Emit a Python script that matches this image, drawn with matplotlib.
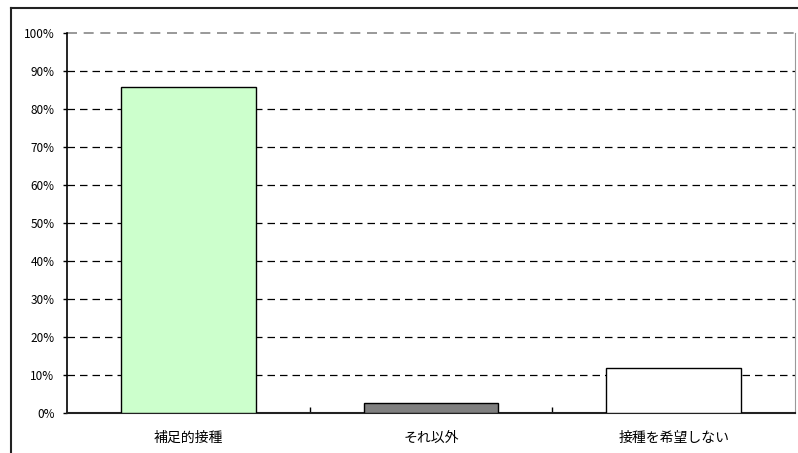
import numpy as np
import matplotlib.pyplot as plt
from matplotlib.lines import Line2D

plt.rcParams['font.family'] = ['Noto Sans CJK JP', 'DejaVu Sans']

categories = ["補足的接種", "それ以外", "接種を希望しない"]
values = [85.8, 2.6, 11.8]
colors = ["#CCFFCC", "#808080", "#FFFFFF"]
yticks = np.arange(0, 101, 10)

fig = plt.figure(figsize=(7.98, 4.53), dpi=100)
ax = fig.add_axes([67/798, 40/453, 728/798, 380/453])

x = np.arange(len(categories))
ax.bar(x, values, width=0.555, color=colors, edgecolor="black", linewidth=1, zorder=3)

ax.set_xlim(-0.5, 2.5)
ax.set_ylim(0, 100)
ax.set_yticks(yticks)
ax.set_yticklabels([f"{v}%" for v in yticks], fontsize=8.5)
# dashed gridlines, the top one lighter
for v in yticks[1:-1]:
    ax.axhline(v, linestyle=(0, (6, 4)), color="black", linewidth=0.9, zorder=1)
ax.axhline(100, linestyle=(0, (6, 4)), color="#888888", linewidth=1.2, zorder=1, clip_on=False)

ax.set_xticks(x)
ax.set_xticklabels(categories, fontsize=10)
ax.tick_params(axis="x", which="major", length=0, pad=13)
ax.set_xticks([0.5, 1.5], minor=True)
ax.tick_params(axis="x", which="minor", direction="in", length=4, width=1)
ax.tick_params(axis="y", length=3, width=1, pad=6)

ax.spines["top"].set_visible(False)
ax.spines["right"].set_color("#999999")
ax.spines["left"].set_linewidth(1.2)
ax.spines["bottom"].set_linewidth(1.5)
ax.spines["bottom"].set_color("#222222")

# outer chart frame
fig.add_artist(Line2D([11/798, 797/798], [1 - 8/453, 1 - 8/453], color="#222222", linewidth=1.5))
fig.add_artist(Line2D([11/798, 11/798], [0, 1 - 8/453], color="#222222", linewidth=1.5))

plt.savefig("out.png", dpi=100)
